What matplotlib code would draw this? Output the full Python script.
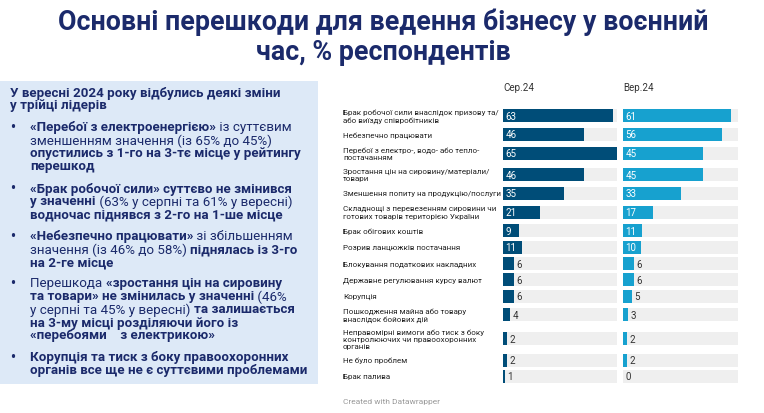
import matplotlib
matplotlib.use("Agg")
import matplotlib.pyplot as plt
from matplotlib.patches import Rectangle

plt.rcParams['font.family'] = ['Roboto', 'DejaVu Sans']

categories = [
    "Брак робочої сили внаслідок призову та/\nабо виїзду співробітників",
    "Небезпечно працювати",
    "Перебої з електро-, водо- або тепло-\nпостачанням",
    "Зростання цін на сировину/матеріали/\nтовари",
    "Зменшення попиту на продукцію/послуги",
    "Складнощі з перевезенням сировини чи\nготових товарів територією України",
    "Брак обігових коштів",
    "Розрив ланцюжків постачання",
    "Блокування податкових накладних",
    "Державне регулювання курсу валют",
    "Корупція",
    "Пошкодження майна або товару\nвнаслідок бойових дій",
    "Неправомірні вимоги або тиск з боку\nконтролюючих чи правоохоронних\nорганів",
    "Не було проблем",
    "Брак палива",
]
aug = [63, 46, 65, 46, 35, 21, 9, 11, 6, 6, 6, 4, 2, 2, 1]
sep = [61, 56, 45, 45, 33, 17, 11, 10, 6, 6, 5, 3, 2, 2, 0]
series_names = ["Сер.24", "Вер.24"]
colors = ["#004d78", "#17a1cf"]

NAVY = "#1b2a6b"
W, H = 764, 414
fig = plt.figure(figsize=(W / 100, H / 100), dpi=100)
fig.patch.set_facecolor("white")

fig.text(383 / W, 1 - 22 / H, "Основні перешкоди для ведення бізнесу у воєнний",
         ha="center", va="center", fontsize=19.3, fontweight="bold", color=NAVY)
fig.text(383 / W, 1 - 52 / H, "час, % респондентів",
         ha="center", va="center", fontsize=19.3, fontweight="bold", color=NAVY)

# left info box
fig.patches.append(Rectangle((0, 1 - 385 / H), 318 / W, 303 / H, transform=fig.transFigure,
                             facecolor="#dde9f7", edgecolor="none", zorder=0))

B, N = True, False
lines = [
    (10, 93, [("У вересні 2024 року відбулись деякі зміни", B)]),
    (10, 106, [("у трійці лідерів", B)]),
    (30, 128, [("«Перебої з електроенергією»", B), (" із суттєвим", N)]),
    (30, 141, [("зменшенням значення (із 65% до 45%)", N)]),
    (30, 154, [("опустились з 1-го на 3-тє місце у рейтингу", B)]),
    (30, 167, [("перешкод", B)]),
    (30, 189, [("«Брак робочої сили» суттєво не змінився", B)]),
    (30, 202, [("у значенні", B), (" (63% у серпні та 61% у вересні)", N)]),
    (30, 215, [("водночас піднявся з 2-го на 1-ше місце", B)]),
    (30, 237, [("«Небезпечно працювати»", B), (" зі збільшенням", N)]),
    (30, 250, [("значення (із 46% до 58%) ", N), ("піднялась із 3-го", B)]),
    (30, 263, [("на 2-ге місце", B)]),
    (30, 284, [("Перешкода ", N), ("«зростання цін на сировину", B)]),
    (30, 297, [("та товари» не змінилась у значенні", B), (" (46%", N)]),
    (30, 310, [("у серпні та 45% у вересні) ", N), ("та залишається", B)]),
    (30, 323, [("на 3-му місці розділяючи його із", B)]),
    (30, 336, [("«перебоями    з електрикою»", B)]),
    (30, 358, [("Корупція та тиск з боку правоохоронних", B)]),
    (30, 371, [("органів все ще не є суттєвими проблемами", B)]),
]
bullets = [128, 189, 237, 284, 358]
for y in bullets:
    fig.text(10 / W, 1 - y / H, "•", fontsize=10, color=NAVY, va="center", fontweight="bold")

fig.canvas.draw()
r = fig.canvas.get_renderer()
for x0, y, segs in lines:
    x = x0
    for txt, bold in segs:
        t = fig.text(x / W, 1 - y / H, txt, fontsize=9.6, va="center", color=NAVY,
                     fontweight="bold" if bold else "normal")
        x += t.get_window_extent(r).width

# bar panels
nlines = [c.count("\n") + 1 for c in categories]
ys = []
y = 106
for n in nlines:
    h = 11.3 + 5 * n
    ys.append(y + h / 2)
    y += h

panels = [(503, 617), (623, 738)]
vmax = 65
bar_h = 13
for (x0, x1), vals, col, name in zip(panels, [aug, sep], colors, series_names):
    ax = fig.add_axes([x0 / W, 0, (x1 - x0) / W, 1])
    ax.set_xlim(0, vmax)
    ax.set_ylim(H, 0)
    ax.axis("off")
    ax.barh(ys, [vmax] * len(ys), height=bar_h, color="#efefef", left=0)
    ax.barh(ys, vals, height=bar_h, color=col)
    ax.text(0, 88, name, fontsize=7, color="#333333", va="center")
    for yy, v in zip(ys, vals):
        if v >= 8:
            ax.text(1.5, yy, str(v), color="white", fontsize=7, va="center")
        else:
            ax.text(v + 1.5, yy, str(v), color="#333333", fontsize=7, va="center")

for yy, c in zip(ys, categories):
    fig.text(343 / W, 1 - yy / H, c, fontsize=5.8, color="#222222", va="center",
             linespacing=1.3)

fig.text(343 / W, 1 - 402 / H, "Created with Datawrapper", fontsize=6, color="#999999",
         va="center")

fig.savefig("out.png", dpi=100)
